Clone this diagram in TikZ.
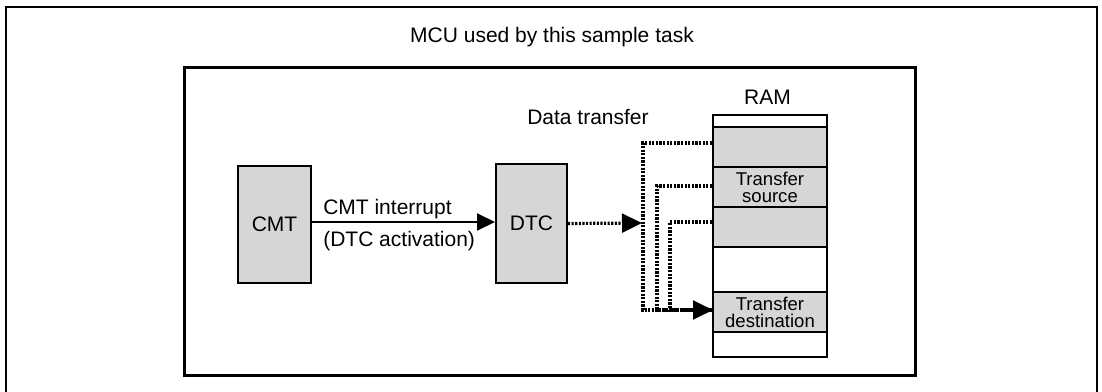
\documentclass[tikz,border=0pt]{standalone}
\usepackage{fontspec}
\setmainfont{Liberation Sans}
\usetikzlibrary{arrows.meta}
\definecolor{cellgray}{RGB}{214,214,214}
\def\px{0.75pt}
\tikzset{
  block/.style={draw=black, line width=1.5pt, fill=cellgray, inner sep=0pt,
    font=\fontsize{15.75}{18}\selectfont},
  cell/.style={draw=black, line width=1.5pt, inner sep=0pt,
    minimum width=114*\px, align=center,
    font=\fontsize{13.9}{12.75}\selectfont},
  lbl/.style={inner sep=0pt, font=\fontsize{15.75}{18}\selectfont},
  dotline/.style={line width=2.4pt, dash pattern=on 1.6pt off 1.1pt},
  dothead/.style={-{Triangle[length=15pt, width=14pt]}},
  solidhead/.style={-{Triangle[length=13.5pt, width=12.75pt]}}
}
\begin{document}
\begin{tikzpicture}[x=0.75pt, y=-0.75pt]
  \useasboundingbox (0,0) rectangle (1102,392);

  % outer frame (open at the bottom edge) and the MCU frame
  \draw[line width=1.5pt] (5.5,400) -- (5.5,7) -- (1096.5,7) -- (1096.5,400);
  \node[lbl, anchor=base] (title) at (552,43) {MCU used by this sample task};
  \draw[line width=2.25pt] (184,68) rectangle (915,375);

  % peripherals
  \node[block, minimum width=73*\px, minimum height=117*\px] (cmt) at (274.5,224.5) {CMT};
  \node[block, minimum width=71*\px, minimum height=119*\px] (dtc) at (531.5,223.5) {DTC};

  \draw[line width=1.5pt, solidhead] (cmt.east |- 0,222) -- (dtc.west |- 0,222);
  \node[lbl, anchor=base west] (irq) at (323,214) {CMT interrupt};
  \node[lbl, anchor=base west] (act) at (323,246) {(DTC activation)};

  % RAM column
  \node[cell, minimum height=12*\px, fill=white]   (top) at (770,121) {};
  \node[cell, minimum height=40*\px, fill=cellgray] (c1)  at (770,147) {};
  \node[cell, minimum height=40*\px, fill=cellgray] (src) at (770,187) {Transfer\\source};
  \node[cell, minimum height=40*\px, fill=cellgray] (c3)  at (770,227) {};
  \node[cell, minimum height=45*\px, fill=white]   (gap) at (770,269.5) {};
  \node[cell, minimum height=40*\px, fill=cellgray] (dst) at (770,312) {Transfer\\destination};
  \node[cell, minimum height=25*\px, fill=white]   (bot) at (770,344.5) {};
  \node[lbl, anchor=base] (ram) at (767.5,105) {RAM};
  \node[lbl, anchor=base west] (dt) at (527,125) {Data transfer};

  % data transfer paths
  \coordinate (jn) at (642,223);
  \coordinate (b1) at (643,310);
  \coordinate (b2) at (657,310);
  \coordinate (b3) at (670,310);
  \coordinate (dw) at (713,310);
  \draw[dotline, dothead] (dtc.east) -- (jn);
  \draw[dotline] ([yshift=3pt]c1.west) -| (b1) -- (dw);
  \draw[dotline] ([yshift=0.75pt]src.west) -| (b2) -- (dw);
  \draw[dotline] ([yshift=3.75pt]c3.west) -| (b3) -- (dw);
  \draw[dotline, dothead] (b3) -- (dw);
\end{tikzpicture}
\end{document}
